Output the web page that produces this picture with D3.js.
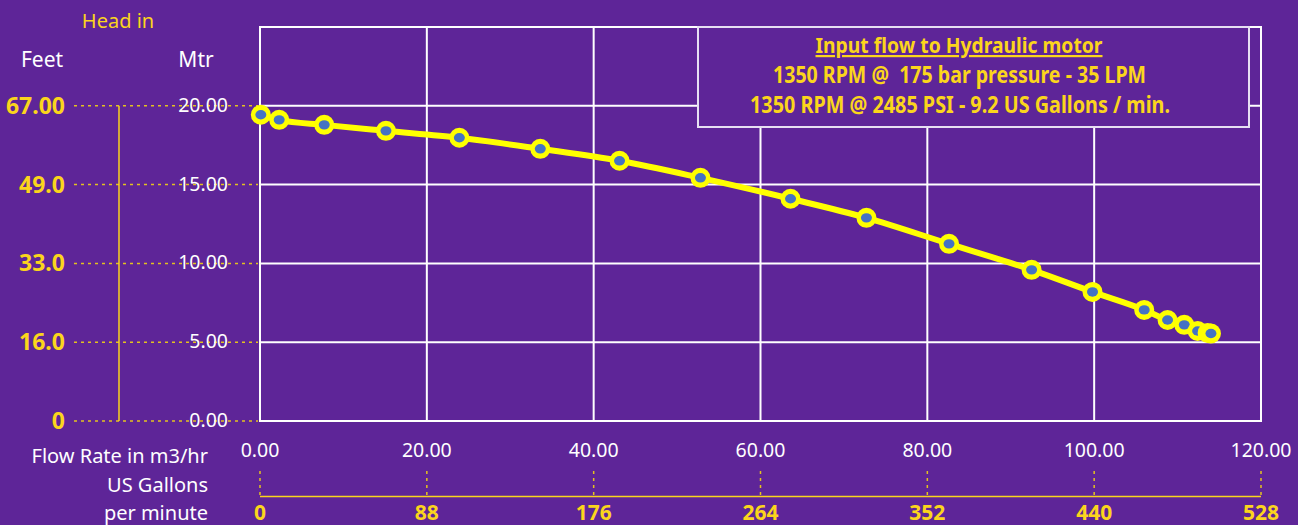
<!DOCTYPE html>
<html>
<head>
<meta charset="utf-8">
<script src="https://cdn.jsdelivr.net/npm/d3@7"></script>
<style>
  html, body { margin: 0; padding: 0; background: #5e2598; }
  svg { display: block; }
</style>
</head>
<body>
<div id="chart-area"></div>
<script>
// DATA
var flowM3 = [0.1, 2.3, 7.7, 15.1, 23.9, 33.6, 43.1, 52.8, 63.6, 72.7, 82.6, 92.5, 99.8, 106.0, 108.8, 110.8, 112.4, 113.6, 114.0];
var headM  = [19.43, 19.11, 18.79, 18.41, 17.97, 17.27, 16.51, 15.43, 14.10, 12.89, 11.24, 9.59, 8.19, 7.05, 6.41, 6.10, 5.71, 5.59, 5.55];

var mtrTicks   = [0, 5, 10, 15, 20];
var mtrLabels  = ["0.00", "5.00", "10.00", "15.00", "20.00"];
var feetLabels = ["0", "16.0", "33.0", "49.0", "67.00"];
var flowTicks  = [0, 20, 40, 60, 80, 100, 120];
var gpmTicks   = [0, 88, 176, 264, 352, 440, 528];

var legendTitle = "Input flow to Hydraulic motor";
var legendLines = [
  "1350 RPM @  175 bar pressure - 35 LPM",
  "1350 RPM @ 2485 PSI - 9.2 US Gallons / min."
];

var W = 1298, H = 525;
var YELLOW = "#fbd51c", LINE = "#ffff00", BLUE = "#4472c4";
var SANS = "'Noto Sans', sans-serif";

var svg = d3.select("#chart-area").append("svg")
    .attr("width", W).attr("height", H);

svg.append("rect").attr("width", W).attr("height", H).attr("fill", "#5e2598");

// SCALES
var x = d3.scaleLinear().domain([0, 120]).range([260, 1261]);
var xg = d3.scaleLinear().domain([0, 528]).range([260, 1261]);
var y = d3.scaleLinear().domain([0, 25]).range([421, 27]);

// GRID
var grid = svg.append("g");
grid.selectAll(".vx").data(flowTicks).enter().append("line")
    .attr("x1", function (d) { return x(d) }).attr("x2", function (d) { return x(d) })
    .attr("y1", y(25)).attr("y2", y(0))
    .attr("stroke", "#ffffff").attr("stroke-width", 2);
grid.selectAll(".hy").data(mtrTicks.concat([25])).enter().append("line")
    .attr("x1", x(0) - 1).attr("x2", x(120) + 1)
    .attr("y1", function (d) { return y(d) }).attr("y2", function (d) { return y(d) })
    .attr("stroke", "#ffffff").attr("stroke-width", 2);

// LEFT AXES
var left = svg.append("g");
left.selectAll(".dot").data(mtrTicks).enter().append("line")
    .attr("x1", 74).attr("x2", 258)
    .attr("y1", function (d) { return y(d) }).attr("y2", function (d) { return y(d) })
    .attr("stroke", "#e3c21f").attr("stroke-width", 1.5)
    .attr("stroke-dasharray", "3,4");

left.append("line")
    .attr("x1", 119).attr("x2", 119)
    .attr("y1", y(20)).attr("y2", y(0))
    .attr("stroke", YELLOW).attr("stroke-width", 1.5);

left.selectAll(".mtr").data(mtrTicks).enter().append("text")
    .attr("x", 228).attr("y", function (d) { return y(d) + 6 })
    .attr("text-anchor", "end")
    .attr("fill", "#ffffff").attr("font-family", SANS).attr("font-size", "19.5px")
    .text(function (d, i) { return mtrLabels[i] });

left.selectAll(".feet").data(mtrTicks).enter().append("text")
    .attr("x", 65).attr("y", function (d) { return y(d) + 8 })
    .attr("text-anchor", "end")
    .attr("fill", YELLOW).attr("font-family", SANS).attr("font-weight", "bold")
    .attr("font-size", "23px")
    .text(function (d, i) { return feetLabels[i] });

left.append("text").attr("x", 118).attr("y", 28).attr("text-anchor", "middle")
    .attr("fill", YELLOW).attr("font-family", SANS).attr("font-size", "20px").text("Head in");
left.append("text").attr("x", 42).attr("y", 67).attr("text-anchor", "middle")
    .attr("fill", "#ffffff").attr("font-family", SANS).attr("font-size", "21px").text("Feet");
left.append("text").attr("x", 196).attr("y", 67).attr("text-anchor", "middle")
    .attr("fill", "#ffffff").attr("font-family", SANS).attr("font-size", "21px").text("Mtr");

// BOTTOM AXES
var bottom = svg.append("g");
bottom.selectAll(".fl").data(flowTicks).enter().append("text")
    .attr("x", function (d) { return x(d) }).attr("y", 457)
    .attr("text-anchor", "middle")
    .attr("fill", "#ffffff").attr("font-family", SANS).attr("font-size", "19.5px")
    .text(function (d) { return d3.format(".2f")(d) });

bottom.selectAll(".tk").data(gpmTicks).enter().append("line")
    .attr("x1", function (d) { return xg(d) }).attr("x2", function (d) { return xg(d) })
    .attr("y1", 471).attr("y2", 496)
    .attr("stroke", "#e3c21f").attr("stroke-width", 1.5)
    .attr("stroke-dasharray", "3,4");

bottom.append("line")
    .attr("x1", xg(0)).attr("x2", xg(528))
    .attr("y1", 496.5).attr("y2", 496.5)
    .attr("stroke", YELLOW).attr("stroke-width", 1.5);

bottom.selectAll(".gp").data(gpmTicks).enter().append("text")
    .attr("x", function (d) { return xg(d) }).attr("y", 520)
    .attr("text-anchor", "middle")
    .attr("fill", YELLOW).attr("font-family", SANS).attr("font-weight", "bold")
    .attr("font-size", "21px")
    .text(function (d) { return d });

var axisTitles = ["Flow Rate in m3/hr", "US Gallons", "per minute"];
bottom.selectAll(".at").data(axisTitles).enter().append("text")
    .attr("x", 208).attr("y", function (d, i) { return 463 + i * 28.5 })
    .attr("text-anchor", "end")
    .attr("fill", "#ffffff").attr("font-family", SANS).attr("font-size", "20px")
    .text(function (d) { return d });

// LEGEND BOX (condensed bold text squeezed to the widths seen in the picture)
var legend = svg.append("g");
legend.append("rect")
    .attr("x", 698).attr("y", 27).attr("width", 551).attr("height", 100)
    .attr("fill", "#5e2598").attr("stroke", "#e6e0f2").attr("stroke-width", 2);

legend.append("text").attr("x", 959).attr("y", 53).attr("text-anchor", "middle")
    .attr("fill", YELLOW).attr("font-family", SANS).attr("font-weight", "bold")
    .attr("font-size", "22px").attr("text-decoration", "underline")
    .attr("textLength", 287).attr("lengthAdjust", "spacingAndGlyphs")
    .text(legendTitle);

var lineWidths = [373, 420];
legend.selectAll(".ll").data(legendLines).enter().append("text")
    .attr("x", function (d, i) { return i === 0 ? 959.5 : 960 })
    .attr("y", function (d, i) { return 83 + i * 30 })
    .attr("text-anchor", "middle")
    .attr("fill", YELLOW).attr("font-family", SANS).attr("font-weight", "bold")
    .attr("font-size", "23px")
    .attr("textLength", function (d, i) { return lineWidths[i] })
    .attr("lengthAdjust", "spacingAndGlyphs")
    .style("white-space", "pre")
    .text(function (d) { return d });

// CURVE
var pts = flowM3.map(function (f, i) { return { f: f, h: headM[i] } });

var line = d3.line()
    .x(function (d) { return x(d.f) })
    .y(function (d) { return y(d.h) })
    .curve(d3.curveMonotoneX);

svg.append("path").datum(pts)
    .attr("d", line)
    .attr("fill", "none").attr("stroke", LINE).attr("stroke-width", 6)
    .attr("stroke-linecap", "round");

var marks = svg.selectAll(".pt").data(pts).enter().append("g")
    .attr("transform", function (d) { return "translate(" + x(d.f) + "," + y(d.h) + ")" });
marks.append("circle").attr("r", 10).attr("fill", LINE);
marks.append("ellipse").attr("rx", 5.5).attr("ry", 4.7).attr("fill", BLUE);
</script>
</body>
</html>
